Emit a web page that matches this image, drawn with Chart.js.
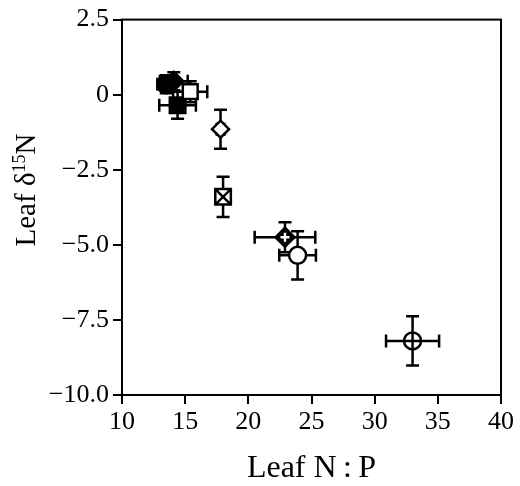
<!DOCTYPE html>
<html>
<head>
<meta charset="utf-8">
<script src="https://cdn.jsdelivr.net/npm/chart.js@4"></script>
<style>
  body { margin: 0; background: #fff; }
  #wrap { width: 520px; height: 486px; }
</style>
</head>
<body>
<div id="wrap"><canvas id="npChart"></canvas></div>
<script>
// data
const markers = ['filledCircle', 'filledDiamond', 'filledSquare', 'openSquare', 'openDiamond', 'crossSquare', 'dotDiamond', 'openCircle', 'crossCircle'];
const leafNP = [13.5, 14.1, 14.4, 15.4, 17.8, 18.0, 22.9, 23.9, 33.0];
const leafD15N = [0.35, 0.45, -0.35, 0.1, -1.15, -3.4, -4.75, -5.35, -8.2];
const leafNPErr = [0.7, 1.1, 1.45, 1.35, 0.3, 0.3, 2.4, 1.45, 2.1];
const leafD15NErr = [0.3, 0.3, 0.45, 0.35, 0.65, 0.67, 0.5, 0.8, 0.82];
const yTicks = [-10, -7.5, -5, -2.5, 0, 2.5];
const yTickLabels = ['\u221210.0', '\u22127.5', '\u22125.0', '\u22122.5', '0', '2.5'];

const SERIF = '"Liberation Serif", "Times New Roman", serif';

// how each marker is built (layers drawn bottom to top)
const markerStyles = {
  filledCircle: [{ pointStyle: 'circle', radius: 9, fill: '#000' }],
  filledDiamond: [{ pointStyle: 'rectRot', radius: 9.5, fill: '#000' }],
  filledSquare: [{ pointStyle: 'rect', radius: 11, fill: '#000' }],
  openSquare: [{ pointStyle: 'rect', radius: 10.5, fill: '#fff' }],
  openDiamond: [{ pointStyle: 'rectRot', radius: 8.5, fill: '#fff' }],
  crossSquare: [{ pointStyle: 'rect', radius: 11, fill: '#fff' }, { pointStyle: 'crossRot', radius: 11 }],
  dotDiamond: [{ pointStyle: 'rectRot', radius: 9.5, fill: '#000' }, { pointStyle: 'cross', radius: 4.5, line: '#fff' }],
  openCircle: [{ pointStyle: 'circle', radius: 8.5, fill: '#fff' }],
  crossCircle: [{ pointStyle: 'circle', radius: 8.5, fill: '#fff' }, { pointStyle: 'cross', radius: 8.5 }]
};

const datasets = [];
markers.forEach((m, i) => {
  markerStyles[m].forEach(s => {
    datasets.push({
      label: m,
      data: [{ x: leafNP[i], y: leafD15N[i] }],
      pointStyle: s.pointStyle,
      pointRadius: s.radius,
      pointHoverRadius: s.radius,
      pointBackgroundColor: s.fill || '#000',
      pointBorderColor: s.line || '#000',
      pointBorderWidth: 2.5,
      order: -datasets.length
    });
  });
});

// error bars + frame, drawn under the markers
const errorBars = {
  id: 'errorBars',
  beforeDatasetsDraw(chart) {
    const { ctx, chartArea, scales: { x, y } } = chart;
    ctx.save();
    ctx.strokeStyle = '#000';
    ctx.lineWidth = 2;
    ctx.strokeRect(chartArea.left, chartArea.top, chartArea.right - chartArea.left, chartArea.bottom - chartArea.top);
    ctx.lineWidth = 2.5;
    const cap = 6.5;
    leafNP.forEach((v, i) => {
      const px = x.getPixelForValue(v);
      const py = y.getPixelForValue(leafD15N[i]);
      const x0 = x.getPixelForValue(v - leafNPErr[i]);
      const x1 = x.getPixelForValue(v + leafNPErr[i]);
      const y0 = y.getPixelForValue(leafD15N[i] - leafD15NErr[i]);
      const y1 = y.getPixelForValue(leafD15N[i] + leafD15NErr[i]);
      ctx.beginPath();
      ctx.moveTo(x0, py); ctx.lineTo(x1, py);
      ctx.moveTo(x0, py - cap); ctx.lineTo(x0, py + cap);
      ctx.moveTo(x1, py - cap); ctx.lineTo(x1, py + cap);
      ctx.moveTo(px, y0); ctx.lineTo(px, y1);
      ctx.moveTo(px - cap, y0); ctx.lineTo(px + cap, y0);
      ctx.moveTo(px - cap, y1); ctx.lineTo(px + cap, y1);
      ctx.stroke();
    });
    ctx.restore();
  }
};

// axis titles (y title needs a superscript)
const axisTitles = {
  id: 'axisTitles',
  afterDraw(chart) {
    const { ctx, chartArea } = chart;
    ctx.save();
    ctx.fillStyle = '#000';
    ctx.textBaseline = 'alphabetic';
    ctx.font = '32px ' + SERIF;
    ctx.textAlign = 'center';
    ctx.fillText('Leaf N\u2009:\u2009P', (chartArea.left + chartArea.right) / 2, 477);

    const main = '29px ' + SERIF, sup = '18px ' + SERIF;
    ctx.font = main;
    const w1 = ctx.measureText('Leaf \u03b4').width;
    const w3 = ctx.measureText('N').width;
    ctx.font = sup;
    const w2 = ctx.measureText('15').width;
    const total = w1 + w2 + w3;
    ctx.translate(35, 190);
    ctx.rotate(-Math.PI / 2);
    ctx.textAlign = 'left';
    let cx = -total / 2;
    ctx.font = main; ctx.fillText('Leaf \u03b4', cx, 0); cx += w1;
    ctx.font = sup; ctx.fillText('15', cx, -10); cx += w2;
    ctx.font = main; ctx.fillText('N', cx, 0);
    ctx.restore();
  }
};

new Chart(document.getElementById('npChart'), {
  type: 'scatter',
  data: { datasets },
  options: {
    responsive: true,
    maintainAspectRatio: false,
    animation: false,
    layout: { padding: { left: 0, top: 13, right: 19, bottom: 0 } },
    plugins: { legend: { display: false }, tooltip: { enabled: false } },
    scales: {
      x: {
        type: 'linear',
        min: 10, max: 40,
        afterFit(scale) { scale.height = 91; },
        ticks: { stepSize: 5, color: '#000', padding: 3, font: { family: SERIF, size: 26 } },
        grid: { drawOnChartArea: false, tickLength: 9, color: '#000', lineWidth: 2 },
        border: { color: '#000', width: 2 }
      },
      y: {
        type: 'linear',
        min: -10, max: 2.5,
        afterFit(scale) { scale.width = 122; },
        ticks: {
          stepSize: 2.5, color: '#000', padding: 4, font: { family: SERIF, size: 26 },
          callback(v) {
            const k = yTicks.findIndex(t => Math.abs(t - v) < 1e-6);
            return k >= 0 ? yTickLabels[k] : '';
          }
        },
        grid: { drawOnChartArea: false, tickLength: 9, color: '#000', lineWidth: 2 },
        border: { color: '#000', width: 2 }
      }
    }
  },
  plugins: [errorBars, axisTitles]
});
</script>
</body>
</html>
